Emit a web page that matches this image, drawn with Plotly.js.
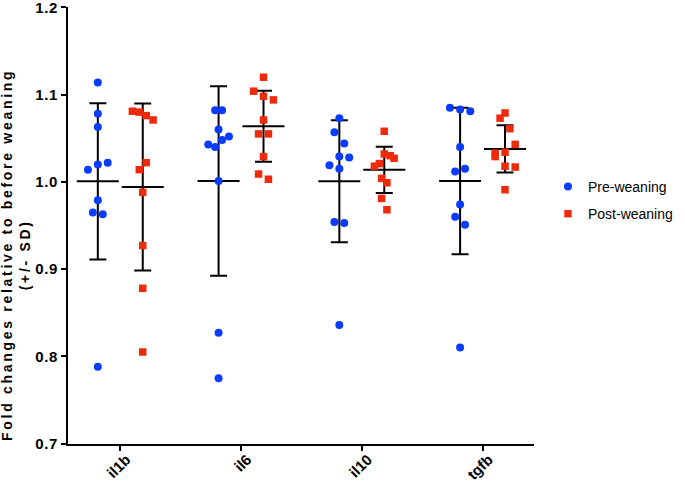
<!DOCTYPE html>
<html>
<head>
<meta charset="utf-8">
<script src="https://cdn.plot.ly/plotly-3.0.1.min.js"></script>
<style>
html,body{margin:0;padding:0;background:#fff;}
#chart{width:685px;height:481px;}
#chart .annotation-text{letter-spacing:2.7px;}
#chart .ytick text{letter-spacing:0.6px;}
</style>
</head>
<body>
<div id="chart"></div>
<script>
// ---- data ----
const categories = ['il1b', 'il6', 'il10', 'tgfb'];
const seriesNames = ['Pre-weaning', 'Post-weaning'];
const yTickValues = [0.7, 0.8, 0.9, 1.0, 1.1, 1.2];

const il1bPre  = [1.114, 1.078, 1.063, 1.020, 1.022, 1.014, 0.979, 0.965, 0.963, 0.788];
const il1bPost = [1.081, 1.080, 1.076, 1.071, 1.022, 1.014, 0.988, 0.927, 0.878, 0.805];
const il6Pre   = [1.082, 1.082, 1.060, 1.048, 1.052, 1.043, 1.040, 1.001, 0.827, 0.775];
const il6Post  = [1.120, 1.104, 1.098, 1.094, 1.071, 1.055, 1.055, 1.029, 1.009, 1.003];
const il10Pre  = [1.073, 1.057, 1.044, 1.029, 1.028, 1.019, 1.015, 0.954, 0.953, 0.836];
const il10Post = [1.058, 1.032, 1.030, 1.027, 1.021, 1.018, 1.004, 0.999, 0.981, 0.968];
const tgfbPre  = [1.085, 1.083, 1.081, 1.040, 1.012, 1.015, 0.974, 0.960, 0.951, 0.810];
const tgfbPost = [1.079, 1.073, 1.061, 1.043, 1.033, 1.029, 1.034, 1.018, 1.017, 0.991];

// horizontal scatter spread of points (pixels)
const il1bPreJitter  = [0, 0, 0, 0, 10, -10, 0, -5, 5, 0];
const il1bPostJitter = [-10.5, -3.5, 3.5, 10.5, 3.5, -3.5, 0, 0, 0, 0];
const il6PreJitter   = [-3.5, 3.5, 0, 3.5, 10.5, -10.5, -3.5, 0, 0, 0];
const il6PostJitter  = [0, -10, 0, 10, 0, -5, 5, 0, -5, 5];
const il10PreJitter  = [0, -5, 5, 0, 10, -10, 0, -5, 5, 0];
const il10PostJitter = [0, 0, 6, 10, -5, -10, -2.7, 2.7, -2.7, 2.7];
const tgfbPreJitter  = [-10.3, 0, 10.3, 0, -5, 5, 0, -5, 5, 0];
const tgfbPostJitter = [0, -5, 5, 10.3, -10, -10, 0, 0, 10.3, 0];

const preGroups  = [il1bPre, il6Pre, il10Pre, tgfbPre];
const postGroups = [il1bPost, il6Post, il10Post, tgfbPost];
const preJitters  = [il1bPreJitter, il6PreJitter, il10PreJitter, tgfbPreJitter];
const postJitters = [il1bPostJitter, il6PostJitter, il10PostJitter, tgfbPostJitter];

// ---- helpers ----
const X_RANGE = [-0.433, 3.426];
const PLOT_W = 472;
const pxPerUnit = PLOT_W / (X_RANGE[1] - X_RANGE[0]);
const GROUP_OFF = 0.186;

function mean(a){ return a.reduce((s,v)=>s+v,0)/a.length; }
function sd(a){ const m = mean(a); return Math.sqrt(a.reduce((s,v)=>s+(v-m)*(v-m),0)/(a.length-1)); }

function pointsTrace(groups, jitters, off, name, color, symbol, size){
  const x = [], y = [];
  groups.forEach((g, gi) => {
    g.forEach((v, i) => { x.push(gi + off + jitters[gi][i] / pxPerUnit); y.push(v); });
  });
  return {type:'scatter', mode:'markers', name:name, legendgroup:name, x:x, y:y,
    marker:{color:color, symbol:symbol, size:size, line:{width:0}}, cliponaxis:false, hoverinfo:'y'};
}
function statTrace(groups, off){
  return {type:'scatter', mode:'markers', showlegend:false,
    x: groups.map((g, gi) => gi + off),
    y: groups.map(mean),
    marker:{symbol:'line-ew-open', size:30, color:'#000', line:{width:2, color:'#000'}},
    error_y:{type:'data', array: groups.map(sd), visible:true, color:'#000', thickness:2, width:8.5},
    hoverinfo:'skip', cliponaxis:false};
}

const BLUE = '#0A3CFF';
const RED = '#EE2A0C';

const data = [
  statTrace(preGroups, -GROUP_OFF),
  statTrace(postGroups, GROUP_OFF),
  pointsTrace(preGroups, preJitters, -GROUP_OFF, seriesNames[0], BLUE, 'circle', 8),
  pointsTrace(postGroups, postJitters, GROUP_OFF, seriesNames[1], RED, 'square', 7.5)
];

const FAMILY = '"Liberation Sans", Arial, sans-serif';
const boldFont = {family:FAMILY, size:15, color:'#000', weight:'bold'};

const layout = {
  width:685, height:481,
  margin:{l:68, r:145, t:7, b:37, pad:0},
  paper_bgcolor:'#fff', plot_bgcolor:'#fff',
  showlegend:true,
  legend:{x:1.03, xanchor:'left', y:0.625, yanchor:'top',
    font:{family:FAMILY, size:14, color:'#000'},
    itemwidth:30, tracegroupgap:6, bgcolor:'rgba(0,0,0,0)'},
  xaxis:{range:X_RANGE, tickvals:[0,1,2,3], ticktext:categories, tickangle:-45,
    showgrid:false, zeroline:false, showline:true, linecolor:'#000', linewidth:2,
    ticks:'outside', ticklen:5, tickwidth:2, tickcolor:'#000',
    ticklabelstandoff:-6, ticklabelshift:6,
    tickfont:boldFont, automargin:false, fixedrange:true},
  yaxis:{range:[0.6995, 1.2005], tickvals:yTickValues, ticktext:yTickValues.map(v=>v.toFixed(1)),
    showgrid:false, zeroline:false, showline:true, linecolor:'#000', linewidth:2,
    ticks:'outside', ticklen:5, tickwidth:2, tickcolor:'#000', ticklabeloverflow:'allow',
    tickfont:boldFont, automargin:false, fixedrange:true},
  annotations:[{
    xref:'paper', yref:'paper', x:-0.111, y:0.4325, xanchor:'center', yanchor:'middle',
    textangle:-90, showarrow:false,
    text:'Fold changes relative to before weaning<br>(+/- SD)',
    font:{family:FAMILY, size:14, color:'#000', weight:'bold'}
  }]
};

Plotly.newPlot('chart', data, layout, {displayModeBar:false, staticPlot:true});
</script>
</body>
</html>
